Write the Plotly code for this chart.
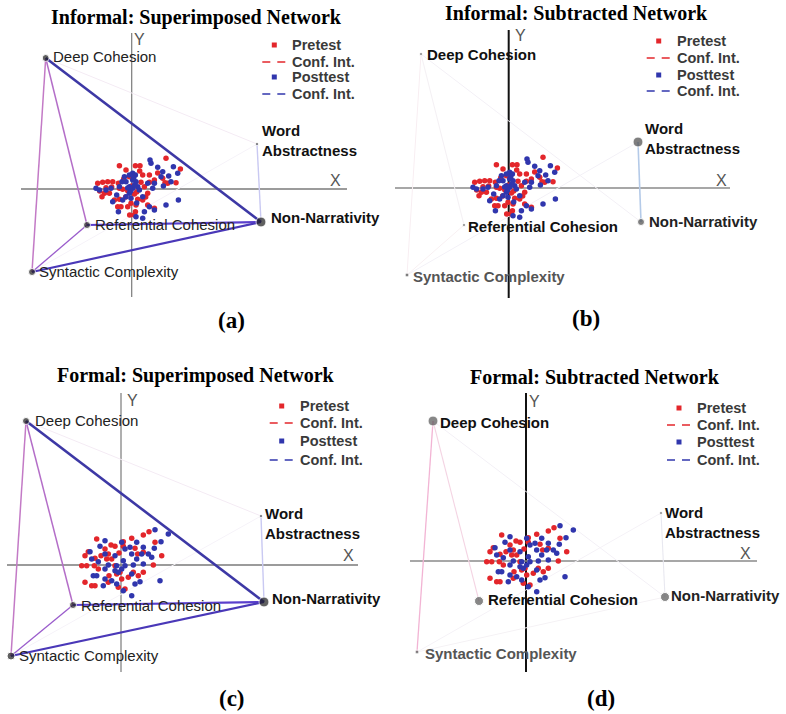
import plotly.graph_objects as go

W, H = 786, 714

# ---------------- data ----------------
NODES = ["Deep Cohesion", "Word Abstractness", "Non-Narrativity",
         "Referential Cohesion", "Syntactic Complexity"]

# node coordinates per panel (units: relative to panel origin)
A_NODE_X = [-86, 125.3, 129.3, -44.7, -99.7]
A_NODE_Y = [131, 45, -33, -36, -83]
B_NODE_X = [-87.7, 129.3, 132.3, -44.7, -101.7]
B_NODE_Y = [134, 46, -34, -37, -87]
C_NODE_X = [-95, 140, 143, -48, -110]
C_NODE_Y = [144, 49, -37, -40, -91]
D_NODE_X = [-93, 135, 139, -47, -109]
D_NODE_Y = [140, 48, -36, -40, -91]

# edges (node index pairs)
SUP_EDGES = [(0, 1), (1, 4), (0, 3), (0, 4), (4, 3), (1, 2), (3, 2), (4, 2), (0, 2)]
B_EDGES = [(0, 2), (0, 4), (0, 3), (1, 4), (4, 3), (1, 2)]
D_EDGES = [(0, 2), (1, 4), (4, 2), (1, 2), (0, 3), (0, 4)]

# Informal students (pretest / posttest positions)
INF_PRE_X = [34.3, 48.7, -12.3, 3.7, 8.3, -5.7, 11, 17.7, 31, 36, 44.3, -29, -34, -19, -24,
             -13.3, -2.3, 9.3, 17.7, 12.7, 22.7, 33.3, -25.7, -12.3, -9, -4, 16, -27.3,
             -29.7, -17.3, -12.3, 2.7, 6, 11, -0.7, 4.3, -4, -14, -10.7, 3.7, 16, 22.7,
             2.7, -22.3, -20, -8, 0, 5, -6, 8, 26, -32, 14, -2]
INF_PRE_Y = [30.7, 20, 23.3, 23.3, 23.3, 19, 14, 14, 10.7, 5.7, 6.3, 6.7, 5.7, 7.3, 7.3,
             5.7, 12.3, 6.7, 6.7, 2.3, 9, 6.3, 1.3, 0.7, -0.3, -1.7, -4.3, -4.3,
             -7.7, -11, -10.3, -5, -10.3, -11, -14.3, -16, -17.7, -17.7, -17.7, -22.7, -16, -19.3,
             -26, -4.3, 2, 10, 3, -3, -8, 18, 16, -2, -8, -26]
INF_POST_X = [18.3, 19.3, 26, 41.7, 31, 22.7, 29.3, 37, 39.3, 31.7, 46, 21, 16, 1, 3.7,
              -2.3, -7.3, -9.7, -5.7, 1, 4.3, 6, 1, 7.7, -2.3, -5.7, -0.7, -9, -19, -25.7,
              -35.7, -20.7, -32.3, 11, 17.7, 22.7, 34.3, 46.7, -13.3, 12.7, 11, 4.3, -2.3,
              -12.3, 3, -1, 2, -4, 5, -15]
INF_POST_Y = [29, 25.7, 21.7, 22.3, 17.3, 5.7, 12.3, 13, 7.3, 3, 15.7, 0.7, 5.7, 15.7, 14,
              14, 12.3, 7.3, 7.3, 9, 7.3, 2.3, 0.7, -1, -4.3, -7.7, -9.3, -11, -12.7, -1,
              0.7, 0.7, -1, -7.7, -17.7, -21, -16, -11, -22.7, -22.7, -29.3, -27.7, 2.3,
              2.3, 4, -2, 11, 1, -14, -6]

# Formal students (pretest / posttest positions)
FOR_PRE_X = [28, 22.3, 10.7, -24.3, -10, -6, 2.3, 2.3, -2, -16, -12.7, -20, -32.7, -36, -26,
             -14.3, -9.3, 14, 16.7, 22.3, 40.7, 32.3, -39.3, -34.3, -26.7, -22.7, -6, -1,
             -4.3, -12, -36, -29.3, -26, -12.7, 0.7, 7.3, 12.3, 22.3, 17.3, -2.7, 4, 34]
FOR_PRE_Y = [33.3, 30, 26.7, 26, 20, 18.7, 23.3, 18.7, 12, 16, 11, 9.3, 13.3, 9.3, 6.7,
             6, 6, 16.7, 11, 12.7, 9.3, 0, -0.7, -0.7, -0.7, -4, -0.7, -7.3,
             -9, -10.7, -17.3, -20.7, -20.7, -17.3, -14, -12.3, -7.3, -7.3, -10.7, -22.3, -24, 22.7]
FOR_POST_X = [34, 47.3, 40, 33.3, 22.3, 20.7, 10.7, 9, 4, 0.7, -16, -21, -31, -29.3, -22.7,
              -16, -6, -4.3, -6, -2.7, 0.7, 4, 12.3, 15.7, 30.7, 39, 22.3, 10.7, 14, 19,
              10.7, 2.3, -4.3, -9.3, -16, -17.7, -24.3, -27.7, -16, -12.7, 2.3, 27.3, 15.7]
FOR_POST_Y = [35.3, 31, 23.3, 16.7, 17.7, 11, 11, 17.7, 16, 22.7, 24.3, 18.7, 13.3, 6, 3.3,
              11, 9.3, -0.7, -5.7, -7.3, -4, -0.7, 0, 6, 7.7, -15.7, 1, -9, -19, -16.7,
              -30.7, -25.7, -19, -15.7, -14, -20.7, -10.7, -10.7, -4, 0, 4.3, 11, 22.7]

TITLES = ["Informal: Superimposed Network", "Informal: Subtracted Network",
          "Formal: Superimposed Network", "Formal: Subtracted Network"]
TAGS = ["(a)", "(b)", "(c)", "(d)"]
LEGEND_TEXT = ["Pretest", "Conf. Int.", "Posttest", "Conf. Int."]

# ---------------- styling / layout ----------------
RED = "#e3262b"
BLUE = "#3036ad"
SANS = "Liberation Sans, Arial, sans-serif"
SERIF = "Liberation Serif, Times New Roman, serif"

SUP_STYLE = [("#f4ebf4", 1), ("#f6f3f9", 1), ("#b46ec8", 1.5), ("#c37ac6", 1.5),
             ("#9a5ccc", 1.3), ("#c9c9f2", 1.4), ("#5a3fcc", 2.2), ("#4a38b8", 2.2),
             ("#3d38a5", 2.6)]
B_STYLE = [("#f3f0f6", 1), ("#f8eef2", 1), ("#f4f0f4", 1), ("#f3f1f7", 1),
           ("#f8f0f2", 1), ("#b4cae8", 1.6)]
D_STYLE = [("#f3f0f6", 1), ("#f5f2f7", 1), ("#f5f2f5", 1), ("#e8e8f0", 1.1),
           ("#f4d4e3", 1.1), ("#f2b4d4", 1.3)]

panels = [
    dict(nx=A_NODE_X, ny=A_NODE_Y, edges=SUP_EDGES, estyle=SUP_STYLE,
         pre=(INF_PRE_X, INF_PRE_Y), post=(INF_POST_X, INF_POST_Y),
         origin=(131.7, 189), box=(0, 26, 393, 302),
         yline=(156, -108), xline=(-110.7, 215.3), ycol="#7a7a7a", ywid=1.2, xcol="#7a7a7a",
         nsize=[7, 3, 10, 7, 7], ncol="#1e1e1e",
         lab=[(5, 1), (3, 3.5), (8, 5), (6, 1), (5, 1)],
         lbold=[False, True, True, False, False],
         lcol=["#222", "#111", "#111", "#222", "#222"],
         title=(196, 17), tag=(232, 320), Y=(139, 39), X=(335, 180),
         leg=(274.3, [45, 62, 77, 94])),
    dict(nx=B_NODE_X, ny=B_NODE_Y, edges=B_EDGES, estyle=B_STYLE,
         pre=(INF_PRE_X, INF_PRE_Y), post=(INF_POST_X, INF_POST_Y),
         origin=(508.7, 188), box=(393, 26, 786, 302),
         yline=(158, -110), xline=(-113.7, 221.3), ycol="#111", ywid=2, xcol="#8a8a8a",
         nsize=[3, 10, 7, 3, 4], ncol="#4a4a4a",
         lab=[(4, -1), (5, 3.5), (6, 1), (2, -1), (4, -1)],
         lbold=[True, True, True, True, True],
         lcol=["#111", "#111", "#222", "#111", "#555"],
         title=(576, 13), tag=(586, 318), Y=(520, 35), X=(721, 180),
         leg=(658.7, [41, 58, 75, 91])),
    dict(nx=C_NODE_X, ny=C_NODE_Y, edges=SUP_EDGES, estyle=SUP_STYLE,
         pre=(FOR_PRE_X, FOR_PRE_Y), post=(FOR_POST_X, FOR_POST_Y),
         origin=(121, 565), box=(0, 386, 393, 680),
         yline=(172, -107), xline=(-114, 237), ycol="#7a7a7a", ywid=1.2, xcol="#7a7a7a",
         nsize=[7, 3, 10, 7, 8], ncol="#1e1e1e",
         lab=[(7, 1), (2, -7.5), (6, 4), (6, 0), (6, 1)],
         lbold=[False, True, True, False, False],
         lcol=["#222", "#111", "#111", "#222", "#222"],
         title=(196, 375), tag=(232, 698), Y=(132, 400), X=(348, 555),
         leg=(281.7, [406, 423, 441, 460])),
    dict(nx=D_NODE_X, ny=D_NODE_Y, edges=D_EDGES, estyle=D_STYLE,
         pre=(FOR_PRE_X, FOR_PRE_Y), post=(FOR_POST_X, FOR_POST_Y),
         origin=(526, 561), box=(393, 386, 786, 680),
         yline=(168, -111), xline=(-116, 231), ycol="#111", ywid=2, xcol="#8a8a8a",
         nsize=[10, 3, 9, 9, 4], ncol="#555555",
         lab=[(5, -1), (2, -9), (4, 2), (7, 2), (6, -1)],
         lbold=[True, True, True, True, True],
         lcol=["#111", "#111", "#222", "#111", "#555"],
         title=(595, 377), tag=(601, 698), Y=(534, 401), X=(745, 553),
         leg=(679, [408, 425, 442, 460])),
]


def px(x):
    return x / W


def py(y):
    return 1 - y / H


fig = go.Figure()
layout = dict(width=W, height=H, margin=dict(l=0, r=0, t=0, b=0),
              paper_bgcolor="white", plot_bgcolor="rgba(0,0,0,0)",
              showlegend=False, shapes=[], annotations=[])

for i, p in enumerate(panels, start=1):
    xa, ya = f"x{i}", f"y{i}"
    ox, oy = p["origin"]
    bx0, by0, bx1, by1 = p["box"]
    layout[f"xaxis{i}"] = dict(domain=[px(bx0), px(bx1)], range=[bx0 - ox, bx1 - ox],
                               visible=False, anchor=ya, fixedrange=True)
    layout[f"yaxis{i}"] = dict(domain=[py(by1), py(by0)], range=[oy - by1, oy - by0],
                               visible=False, anchor=xa, fixedrange=True)

    # axis lines
    layout["shapes"].append(dict(type="line", xref=xa, yref=ya, x0=0, x1=0,
                                 y0=p["yline"][0], y1=p["yline"][1], layer="below",
                                 line=dict(color=p["ycol"], width=p["ywid"])))
    layout["shapes"].append(dict(type="line", xref=xa, yref=ya, y0=0, y1=0,
                                 x0=p["xline"][0], x1=p["xline"][1], layer="below",
                                 line=dict(color=p["xcol"], width=1.3)))

    # edges
    for (a, b), (col, wd) in zip(p["edges"], p["estyle"]):
        fig.add_trace(go.Scatter(x=[p["nx"][a], p["nx"][b]], y=[p["ny"][a], p["ny"][b]],
                                 mode="lines", line=dict(color=col, width=wd),
                                 hoverinfo="skip", xaxis=xa, yaxis=ya))

    # student points
    fig.add_trace(go.Scatter(x=p["pre"][0], y=p["pre"][1], mode="markers",
                             marker=dict(color=RED, size=5.5), xaxis=xa, yaxis=ya,
                             name="Pretest"))
    fig.add_trace(go.Scatter(x=p["post"][0], y=p["post"][1], mode="markers",
                             marker=dict(color=BLUE, size=5.5), xaxis=xa, yaxis=ya,
                             name="Posttest"))

    # nodes
    fig.add_trace(go.Scatter(x=p["nx"], y=p["ny"], mode="markers",
                             marker=dict(color=p["ncol"], size=p["nsize"]),
                             xaxis=xa, yaxis=ya, text=NODES, hoverinfo="text"))

    # node labels
    for k, name in enumerate(NODES):
        txt = "Word<br>Abstractness" if k == 1 else name
        if p["lbold"][k]:
            txt = f"<b>{txt}</b>"
        dx, dy = p["lab"][k]
        layout["annotations"].append(dict(
            x=p["nx"][k], y=p["ny"][k], xref=xa, yref=ya, text=txt, showarrow=False,
            xanchor="left", yanchor="middle", align="left", xshift=dx, yshift=dy,
            font=dict(family=SANS, size=15, color=p["lcol"][k])))

    # titles & tags
    layout["annotations"].append(dict(
        x=px(p["title"][0]), y=py(p["title"][1]), xref="paper", yref="paper",
        text=f"<b>{TITLES[i-1]}</b>", showarrow=False, xanchor="center", yanchor="middle",
        font=dict(family=SERIF, size=20, color="black")))
    layout["annotations"].append(dict(
        x=px(p["tag"][0]), y=py(p["tag"][1]), xref="paper", yref="paper",
        text=f"<b>{TAGS[i-1]}</b>", showarrow=False, xanchor="center", yanchor="middle",
        font=dict(family=SERIF, size=23, color="black")))
    for lab, (lx, ly) in (("Y", p["Y"]), ("X", p["X"])):
        layout["annotations"].append(dict(
            x=px(lx), y=py(ly), xref="paper", yref="paper", text=lab, showarrow=False,
            xanchor="center", yanchor="middle",
            font=dict(family=SANS, size=16, color="#555")))

    # legend
    sx, ys = p["leg"]
    cols = [RED, RED, BLUE, BLUE]
    for j, (t, yy) in enumerate(zip(LEGEND_TEXT, ys)):
        if j % 2 == 0:
            layout["shapes"].append(dict(type="rect", xref="paper", yref="paper",
                                         x0=px(sx - 2.5), x1=px(sx + 2.5),
                                         y0=py(yy + 2.5), y1=py(yy - 2.5),
                                         fillcolor=cols[j], line=dict(width=0)))
        else:
            for d0, d1 in ((-12, -4), (3, 11)):
                layout["shapes"].append(dict(type="line", xref="paper", yref="paper",
                                             x0=px(sx + d0), x1=px(sx + d1),
                                             y0=py(yy), y1=py(yy),
                                             line=dict(color=cols[j], width=1.5)))
        layout["annotations"].append(dict(
            x=px(sx + 17), y=py(yy), xref="paper", yref="paper", text=f"<b>{t}</b>",
            showarrow=False, xanchor="left", yanchor="middle", borderpad=0,
            font=dict(family=SANS, size=14.5, color="#3a3a3a")))

fig.update_layout(**layout)
fig.write_html("out.html", config={"displayModeBar": False},
               post_script="document.body.style.margin='0px';document.body.style.overflow='hidden';")
